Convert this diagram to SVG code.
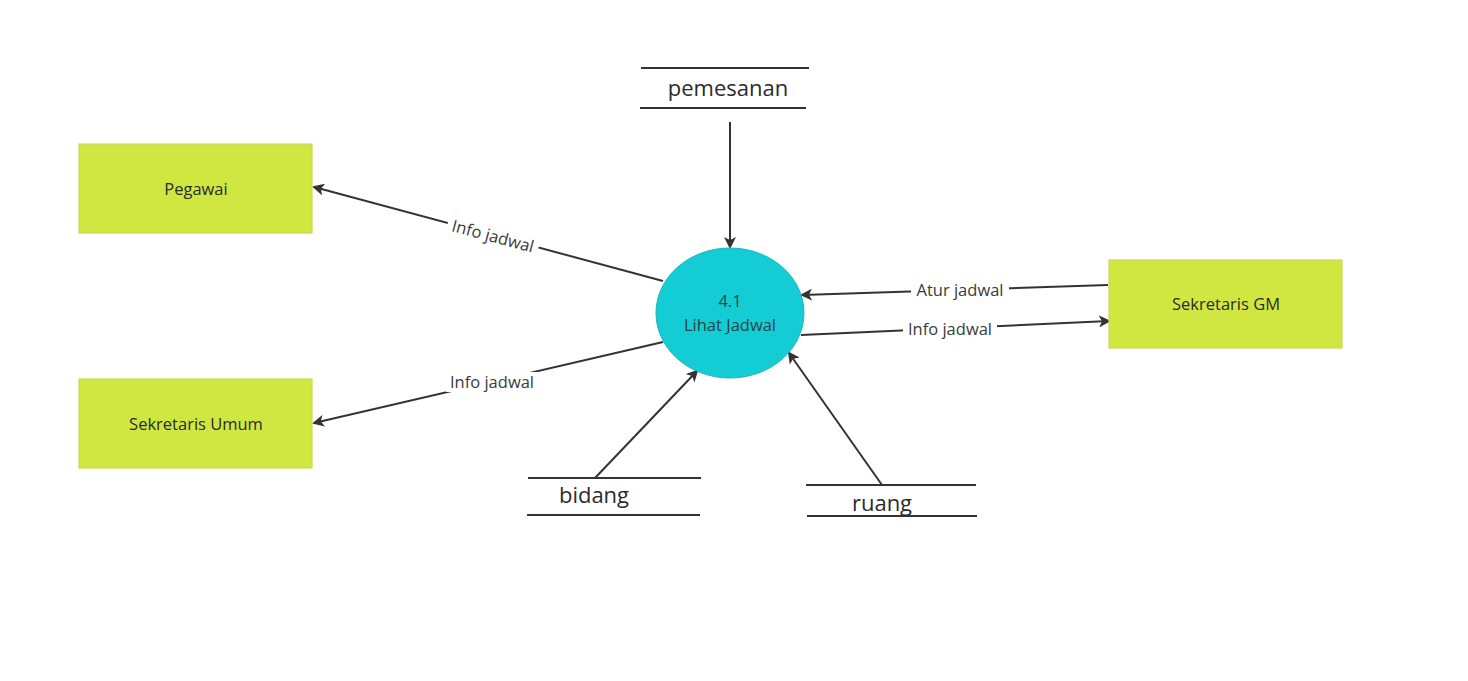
<svg xmlns="http://www.w3.org/2000/svg" width="1468" height="681" viewBox="0 0 1468 681">
<style>
.ent{fill:#d0e741;stroke:#c3da5e;stroke-width:1.2}
.t{font-family:"Open Sans","Liberation Sans",sans-serif;fill:#2b2b2b;text-anchor:middle}
.nt{font-size:16.5px}
.lt{font-size:16.5px;fill:#3a3a3a}
.pt{font-size:16.5px;fill:#26464a}
.st{font-size:22px}
.ds{stroke:#333;stroke-width:2}
.c{stroke:#333;stroke-width:2;fill:none;marker-end:url(#a)}
.bg{fill:#fff}
</style>
<defs>
<marker id="a" viewBox="0 0 12 12" refX="10" refY="6" markerWidth="12" markerHeight="12" markerUnits="userSpaceOnUse" orient="auto">
<path d="M0,0 L12,6 L0,12 L3,6 Z" fill="#333"/>
</marker>
</defs>
<rect width="1468" height="681" fill="#fff"/>
<g id="connectors">
<line class="c" x1="730" y1="122" x2="730" y2="247"/>
<line class="c" x1="663" y1="281" x2="314" y2="187"/>
<line class="c" x1="663" y1="342" x2="314" y2="423"/>
<line class="c" x1="1108" y1="285" x2="802" y2="295"/>
<line class="c" x1="801" y1="335" x2="1109" y2="321"/>
<line class="c" x1="595" y1="478" x2="697" y2="371"/>
<line class="c" x1="882" y1="485" x2="789" y2="353"/>
<g transform="translate(493,236) rotate(15)"><rect class="bg" x="-47" y="-10" width="94" height="20"/><text class="t lt" x="0" y="6">Info jadwal</text></g>
<rect class="bg" x="446" y="372" width="94" height="20"/><text class="t lt" x="492" y="388">Info jadwal</text>
<rect class="bg" x="911" y="280" width="98" height="20"/><text class="t lt" x="960" y="296">Atur jadwal</text>
<rect class="bg" x="903" y="319" width="94" height="20"/><text class="t lt" x="950" y="335">Info jadwal</text>
</g>
<g id="pegawai"><rect class="ent" x="79" y="144" width="233" height="89"/><text class="t nt" x="196" y="195">Pegawai</text></g>
<g id="sekretaris-umum"><rect class="ent" x="79" y="379" width="233" height="89"/><text class="t nt" x="196" y="430">Sekretaris Umum</text></g>
<g id="sekretaris-gm"><rect class="ent" x="1109" y="260" width="233" height="88"/><text class="t nt" x="1226" y="310">Sekretaris GM</text></g>
<g id="proses"><ellipse cx="730" cy="313" rx="74" ry="65" fill="#13ccd4" stroke="#1ab6be" stroke-width="1"/><text class="t pt" x="730" y="307">4.1</text><text class="t pt" x="730" y="331">Lihat Jadwal</text></g>
<g id="pemesanan"><line class="ds" x1="641" y1="68" x2="809" y2="68"/><line class="ds" x1="640" y1="108" x2="806" y2="108"/><text class="t st" x="728" y="96">pemesanan</text></g>
<g id="bidang"><line class="ds" x1="528" y1="478" x2="701" y2="478"/><line class="ds" x1="527" y1="515" x2="700" y2="515"/><text class="t st" x="594" y="503">bidang</text></g>
<g id="ruang"><line class="ds" x1="806" y1="485" x2="976" y2="485"/><line class="ds" x1="807" y1="516" x2="977" y2="516"/><text class="t st" x="882" y="511">ruang</text></g>
</svg>
